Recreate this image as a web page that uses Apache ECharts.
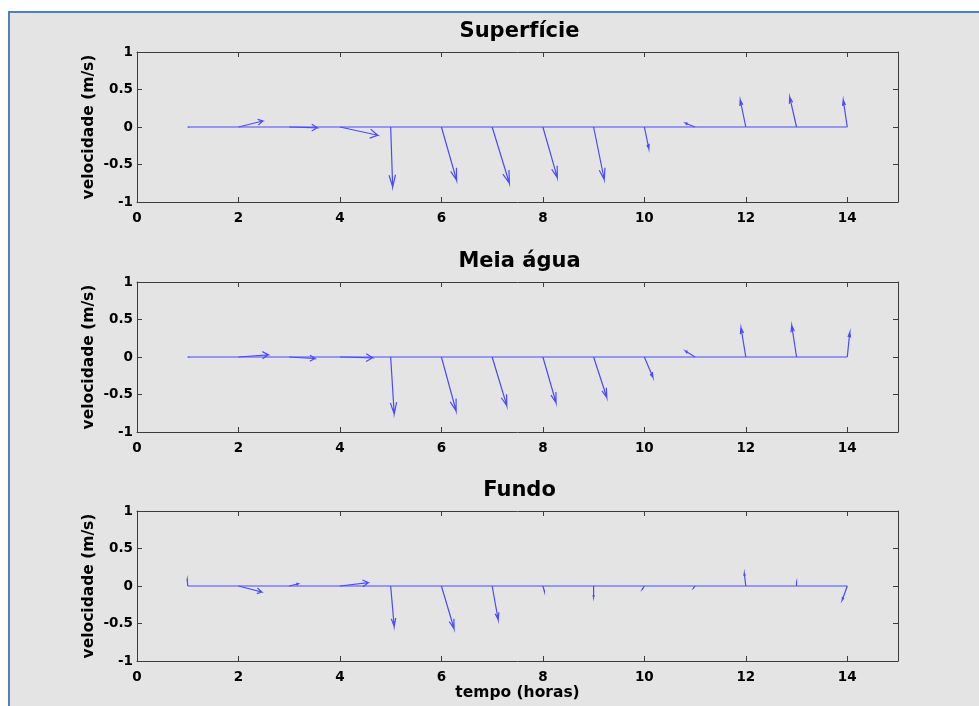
<!DOCTYPE html>
<html>
<head>
<meta charset="utf-8">
<script src="https://cdn.jsdelivr.net/npm/echarts@6/dist/echarts.min.js"></script>
<style>
html,body{margin:0;padding:0;background:#fff;width:979px;height:706px;overflow:hidden;}
#bg{position:absolute;left:8px;top:11px;width:969px;height:693px;background:#e4e4e4;border-left:2px solid #4f81bd;border-top:2px solid #4f81bd;}
#chart{position:absolute;left:0;top:0;width:979px;height:706px;}
</style>
</head>
<body>
<div id="bg"></div>
<div id="chart"></div>
<script>
// Data (hours and u/v velocity components, m/s)
const hours = [1,2,3,4,5,6,7,8,9,10,11,12,13,14];
const titles = ['Superfície','Meia água','Fundo'];
const xTicks = [0,2,4,6,8,10,12,14];
const yTicks = [-1,-0.5,0,0.5,1];

const supU  = [0.005, 0.48, 0.555, 0.745, 0.04, 0.30, 0.34, 0.285, 0.21, 0.09, -0.19, -0.11, -0.135, -0.08];
const supV  = [0.0, 0.08, -0.01, -0.11, -0.80, -0.71, -0.75, -0.675, -0.70, -0.29, 0.05, 0.36, 0.40, 0.36];
const meiaU = [0.005, 0.59, 0.51, 0.645, 0.07, 0.29, 0.29, 0.26, 0.26, 0.17, -0.19, -0.095, -0.095, 0.05];
const meiaV = [0.0, 0.03, -0.02, -0.01, -0.76, -0.72, -0.65, -0.61, -0.54, -0.27, 0.08, 0.39, 0.42, 0.33];
const fundoU = [-0.01, 0.46, 0.18, 0.56, 0.07, 0.25, 0.12, 0.03, 0.0, -0.04, -0.03, -0.03, 0.0, -0.10];
const fundoV = [0.09, -0.08, 0.03, 0.045, -0.54, -0.57, -0.45, -0.07, -0.15, -0.045, -0.03, 0.17, 0.05, -0.19];

const sets = [[supU, supV],[meiaU, meiaV],[fundoU, fundoV]];

const FONT = 'DejaVu Sans';
const LINE = '#4a4aff';
const AXIS = '#3c3c3c';
const gridTops = [52, 282, 511];
const gridLeft = 137, gridW = 761, gridH = 150;

const grids = [], xAxes = [], yAxes = [], series = [], titleArr = [];
gridTops.forEach((top, i) => {
  grids.push({left: gridLeft, top: top, width: gridW, height: gridH, containLabel: false});
  titleArr.push({
    text: titles[i], left: gridLeft + gridW / 2 - 3, top: top - 36, textAlign: 'center',
    textStyle: {fontFamily: FONT, fontWeight: 'bold', fontSize: 21, color: '#000'}
  });
  const common = {
    gridIndex: i, type: 'value', min: 0, max: 15, interval: 2,
    axisLine: {show: true, onZero: false, lineStyle: {color: AXIS, width: 1}},
    axisTick: {show: true, inside: true, length: 5, lineStyle: {color: AXIS}},
    splitLine: {show: false}
  };
  xAxes.push(Object.assign({}, common, {
    position: 'bottom',
    axisLabel: {show: true, showMaxLabel: false, margin: 9, color: '#000', fontFamily: FONT, fontWeight: 'bold', fontSize: 13.5},
    name: i === 2 ? 'tempo (horas)' : '', nameLocation: 'middle', nameGap: 24,
    nameTextStyle: {fontFamily: FONT, fontWeight: 'bold', fontSize: 15.5, color: '#000'}
  }));
  xAxes.push(Object.assign({}, common, {position: 'top', axisLabel: {show: false}}));
  const ycommon = {
    gridIndex: i, type: 'value', min: -1, max: 1, interval: 0.5,
    axisLine: {show: true, onZero: false, lineStyle: {color: AXIS, width: 1}},
    axisTick: {show: true, inside: true, length: 5, lineStyle: {color: AXIS}},
    splitLine: {show: false}
  };
  yAxes.push(Object.assign({}, ycommon, {
    position: 'left',
    axisLabel: {show: true, margin: 4, color: '#000', fontFamily: FONT, fontWeight: 'bold', fontSize: 13.5, formatter: v => String(v)},
    name: 'velocidade (m/s)', nameLocation: 'middle', nameGap: 40, nameRotate: 90, nameMoveOverlap: false,
    nameTextStyle: {fontFamily: FONT, fontWeight: 'bold', fontSize: 15.5, color: '#000'}
  }));
  yAxes.push(Object.assign({}, ycommon, {position: 'right', axisLabel: {show: false}}));

  const [U, V] = sets[i];
  // baseline from first to last hour
  series.push({
    type: 'line', xAxisIndex: 2 * i, yAxisIndex: 2 * i, symbol: 'none', silent: true,
    lineStyle: {color: LINE, width: 1.2},
    data: [[hours[0], 0], [hours[hours.length - 1], 0]]
  });
  // feather arrows
  series.push({
    type: 'custom', xAxisIndex: 2 * i, yAxisIndex: 2 * i, silent: true,
    data: hours.map((h, k) => [h, U[k], V[k]]),
    renderItem: function (params, api) {
      const t = api.value(0), u = api.value(1), v = api.value(2);
      // MATLAB feather arrow shape in data units: xx=[0 1 .8 1 .8], yy=[0 0 .08 0 -.08] times z=u+iv
      const xx = [0, 1, 0.8, 1, 0.8], yy = [0, 0, 0.08, 0, -0.08];
      const pts = xx.map((a, j) => {
        const b = yy[j];
        const re = a * u - b * v;
        const im = a * v + b * u;
        return api.coord([t + re, im]);
      });
      return {type: 'polyline', shape: {points: pts}, style: {stroke: LINE, fill: null, lineWidth: 1.2}};
    }
  });
});

const chart = echarts.init(document.getElementById('chart'), null, {renderer: 'canvas'});
chart.setOption({
  backgroundColor: 'transparent',
  animation: false,
  title: titleArr,
  grid: grids,
  xAxis: xAxes,
  yAxis: yAxes,
  series: series
});
</script>
</body>
</html>
